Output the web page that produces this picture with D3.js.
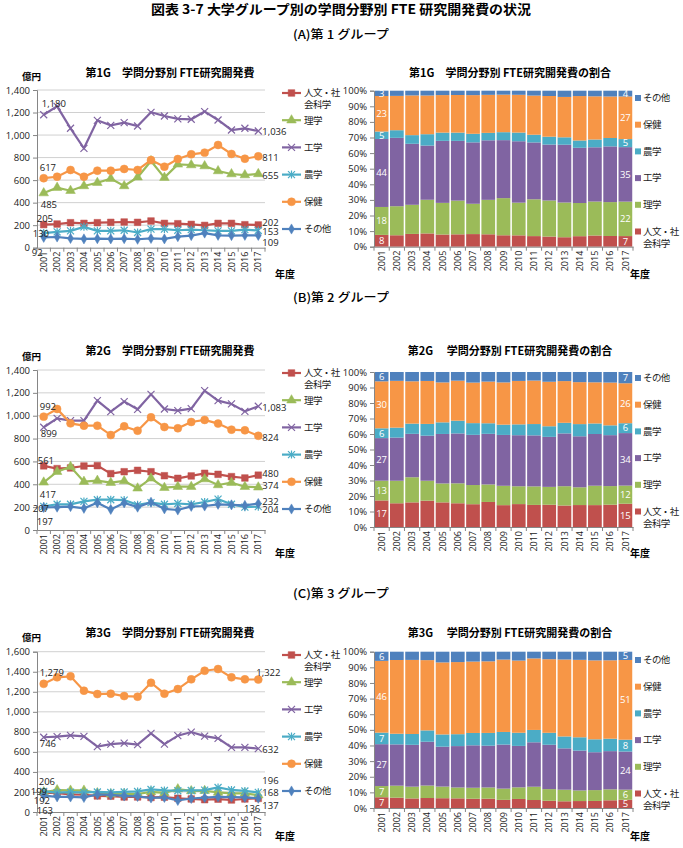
<!DOCTYPE html>
<html>
<head>
<meta charset="utf-8">
<script src="https://cdn.jsdelivr.net/npm/d3@7/dist/d3.min.js"></script>
<style>
  body { margin: 0; background: #fff; }
  svg { display: block; font-family: "Noto Sans CJK JP", "Noto Sans", sans-serif; }
</style>
</head>
<body>
<svg id="chart" width="683" height="848"></svg>
<script>
// categories
const years = ['2001','2002','2003','2004','2005','2006','2007','2008','2009',
  '2010','2011','2012','2013','2014','2015','2016','2017'];
const fields = ['人文・社会科学','理学','工学','農学','保健','その他'];

// 第1グループ (億円)
const g1Jinbun  = [205,210,222,216,222,225,228,225,237,216,213,207,198,216,216,204,202];
const g1Rigaku  = [485,533,506,548,577,613,548,625,770,622,740,734,725,681,654,645,655];
const g1Kougaku = [1180,1255,1060,882,1131,1086,1110,1080,1202,1169,1143,1140,1208,1134,1045,1060,1036];
const g1Nougaku = [130,140,150,185,150,150,155,135,165,165,155,160,155,150,150,160,153];
const g1Hoken   = [617,630,690,630,684,684,699,690,778,719,787,829,844,912,832,790,811];
const g1Sonota  = [92,95,82,78,80,78,80,75,82,78,98,108,130,110,108,110,109];

// 第2グループ
const g2Jinbun  = [561,537,543,560,563,493,510,522,510,475,452,473,496,487,467,455,480];
const g2Rigaku  = [417,510,554,423,432,414,429,365,452,370,379,379,446,394,414,379,374];
const g2Kougaku = [899,977,957,957,1132,1036,1123,1056,1187,1059,1044,1062,1219,1132,1103,1038,1083];
const g2Nougaku = [207,225,225,250,265,265,262,220,240,225,232,225,245,270,225,200,204];
const g2Hoken   = [992,1059,933,913,913,831,907,869,986,901,890,945,963,931,878,872,824];
const g2Sonota  = [197,200,205,190,238,180,237,200,243,185,175,207,210,225,220,215,232];

// 第3グループ
const g3Jinbun  = [192,188,175,172,160,158,150,150,145,148,137,130,123,128,120,130,136];
const g3Rigaku  = [199,219,215,215,190,178,178,180,200,190,228,210,212,195,185,185,168];
const g3Kougaku = [746,752,765,755,652,678,688,672,785,678,762,798,758,735,645,645,632];
const g3Nougaku = [206,194,198,195,200,195,200,205,225,215,212,215,218,245,220,210,196];
const g3Hoken   = [1279,1344,1354,1211,1177,1181,1157,1151,1290,1181,1227,1324,1410,1427,1344,1324,1322];
const g3Sonota  = [163,151,150,145,175,170,160,155,140,145,115,135,143,150,148,145,137];

const yTicks1400 = [0,200,400,600,800,1000,1200,1400];
const yTicks1600 = [0,200,400,600,800,1000,1200,1400,1600];
const pctTicks = [0,0.1,0.2,0.3,0.4,0.5,0.6,0.7,0.8,0.9,1];

const colors = {
  '人文・社会科学': '#C0504D', '理学': '#9BBB59', '工学': '#8064A2',
  '農学': '#4BACC6', '保健': '#F79646', 'その他': '#4F81BD'
};
const markers = {
  '人文・社会科学': 'square', '理学': 'triangle', '工学': 'x',
  '農学': 'star', '保健': 'circle', 'その他': 'diamond'
};

// build row tables for a group
function makeRows(lists) {
  return years.map((yr, i) => {
    let r = { year: yr };
    fields.forEach((f, j) => r[f] = lists[j][i]);
    return r;
  });
}

const groups = [
  { rows: makeRows([g1Jinbun,g1Rigaku,g1Kougaku,g1Nougaku,g1Hoken,g1Sonota]),
    yTicks: yTicks1400, name: '第1G' },
  { rows: makeRows([g2Jinbun,g2Rigaku,g2Kougaku,g2Nougaku,g2Hoken,g2Sonota]),
    yTicks: yTicks1400, name: '第2G' },
  { rows: makeRows([g3Jinbun,g3Rigaku,g3Kougaku,g3Nougaku,g3Hoken,g3Sonota]),
    yTicks: yTicks1600, name: '第3G' }
];

// layout for each block
const layout = [
  { top: 90, bottom: 247.7, ptop: 90.7, pbottom: 246.7, title: 73, unit: 77, legTop: 93, pLegTop: 98, nendo: 274,
    pctTitle: '第1G　学問分野別 FTE研究開発費の割合',
    first: { '工学':[-2,-11,'start'], '保健':[-4,-11,'start'], '理学':[-3,12,'start'], '人文・社会科学':[-7,-6,'start'], '農学':[-11,1,'start'], 'その他':[-12,15,'start'] },
    last:  { '工学':[4,1,'start'], '保健':[4,1,'start'], '理学':[4,2,'start'], '人文・社会科学':[4,-2,'start'], '農学':[4,1,'start'], 'その他':[4,7,'start'] } },
  { top: 370, bottom: 530, ptop: 372, pbottom: 527, title: 351, unit: 357, legTop: 373, pLegTop: 378, nendo: 553,
    pctTitle: '第2G　 学問分野別 FTE研究開発費の割合',
    first: { '工学':[-3,6,'start'], '保健':[-4,-10,'start'], '理学':[-4,12,'start'], '人文・社会科学':[-6,-5,'start'], '農学':[-11,2,'start'], 'その他':[-7,14,'start'] },
    last:  { '工学':[4,1,'start'], '保健':[4,2,'start'], '理学':[4,-2,'start'], '人文・社会科学':[4,-1,'start'], '農学':[4,3,'start'], 'その他':[4,-2,'start'] } },
  { top: 651.7, bottom: 812, ptop: 651.7, pbottom: 808, title: 633, unit: 638, legTop: 655, pLegTop: 660, nendo: 836,
    pctTitle: '第3G　 学問分野別 FTE研究開発費の割合',
    first: { '工学':[-4,6,'start'], '保健':[-4,-11,'start'], '理学':[-13,0,'start'], '人文・社会科学':[-10,8,'start'], '農学':[-5,-10,'start'], 'その他':[-7,15,'start'] },
    last:  { '工学':[4,1,'start'], '保健':[-2,-7,'start'], '理学':[4,-2,'start'], '人文・社会科学':[2,10,'end'], '農学':[4,-12,'start'], 'その他':[4,7,'start'] } }
];

const svg = d3.select('#chart');
const fmt = d3.format(',');
const numFont = '"Open Sans","Noto Sans",sans-serif';

// page headings
svg.append('text').attr('x', 341).attr('y', 14).attr('text-anchor', 'middle')
  .attr('textLength', 380).attr('lengthAdjust', 'spacingAndGlyphs')
  .style('font-size', '13px').style('font-weight', 700)
  .text('図表 3-7 大学グループ別の学問分野別 FTE 研究開発費の状況');
[['(A)第 1 グループ', 39], ['(B)第 2 グループ', 302], ['(C)第 3 グループ', 598]].forEach(h => {
  svg.append('text').attr('x', 341).attr('y', h[1]).attr('text-anchor', 'middle')
    .attr('textLength', 96).attr('lengthAdjust', 'spacingAndGlyphs')
    .style('font-size', '12px').style('font-weight', 500).text(h[0]);
});

function markerPath(type) {
  if (type === 'square') return d3.symbol(d3.symbolSquare, 44)();
  if (type === 'triangle') return d3.symbol(d3.symbolTriangle, 40)();
  if (type === 'diamond') return d3.symbol(d3.symbolDiamond, 30)();
  if (type === 'circle') return d3.symbol(d3.symbolCircle, 50)();
  if (type === 'x') return 'M-3.5,-3.5L3.5,3.5M-3.5,3.5L3.5,-3.5';
  return 'M-3.5,-3.5L3.5,3.5M-3.5,3.5L3.5,-3.5M0,-4L0,4';
}

function drawMarker(g, type, x, y, c) {
  let open = (type === 'x' || type === 'star');
  g.append('path').attr('d', markerPath(type))
    .attr('transform', `translate(${x},${y})`)
    .attr('fill', open ? 'none' : c)
    .attr('stroke', c).attr('stroke-width', open ? 1.2 : 0.5);
}

function styleAxis(a) {
  a.select('.domain').attr('stroke', '#868686');
  a.selectAll('.tick line').attr('stroke', '#868686');
  a.selectAll('text').attr('fill', '#222').style('font-size', '9.5px')
    .style('font-family', numFont);
}

function legendText(g, f, x, y) {
  let lines = f === '人文・社会科学' ? ['人文・社', '会科学'] : [f];
  lines.forEach((s, k) => {
    g.append('text').attr('x', x).attr('y', y + k * 12).attr('dy', '0.35em')
      .style('font-size', '9.5px').style('letter-spacing', '-0.6px')
      .attr('fill', '#222').text(s);
  });
}

const x0 = 37, x1 = 265;
const px0 = 374, px1 = 633;

function lineChart(grp, lay) {
  let g = svg.append('g');
  let x = d3.scalePoint().domain(years).range([x0, x1]).padding(0.5);
  let band = d3.scaleBand().domain(years).range([x0, x1]);
  let ymax = d3.max(grp.yTicks);
  let y = d3.scaleLinear().domain([0, ymax]).range([lay.bottom, lay.top]);

  g.append('g').selectAll('line').data(grp.yTicks.filter(d => d > 0)).join('line')
    .attr('x1', x0).attr('x2', x1).attr('y1', d => y(d)).attr('y2', d => y(d))
    .attr('stroke', '#d0d0d0').attr('stroke-width', 1);

  let ya = g.append('g').attr('transform', `translate(${x0},0)`)
    .call(d3.axisLeft(y).tickValues(grp.yTicks).tickFormat(fmt).tickSize(4).tickPadding(3));
  styleAxis(ya);

  let xa = g.append('g').attr('transform', `translate(0,${lay.bottom})`)
    .call(d3.axisBottom(band).tickSize(0).tickPadding(3));
  styleAxis(xa);
  xa.selectAll('text').attr('transform', 'rotate(-90)').attr('x', -4).attr('y', 0)
    .attr('dy', '0.35em').style('text-anchor', 'end').style('font-size', '9px');
  xa.selectAll('.bound').data(years.concat(['end'])).join('line')
    .attr('x1', d => d === 'end' ? x1 : band(d)).attr('x2', d => d === 'end' ? x1 : band(d))
    .attr('y1', 0).attr('y2', 4).attr('stroke', '#868686');

  let line = d3.line().x(d => x(d.year)).y(d => y(d.v));
  fields.forEach(f => {
    let pts = grp.rows.map(r => ({ year: r.year, v: r[f] }));
    let c = colors[f];
    g.append('path').datum(pts).attr('d', line).attr('fill', 'none')
      .attr('stroke', c).attr('stroke-width', 2.2);
    pts.forEach(p => drawMarker(g, markers[f], x(p.year), y(p.v), c));
  });

  // first/last value labels
  fields.forEach(f => {
    let r0 = grp.rows[0], rn = grp.rows[grp.rows.length - 1];
    [[r0, lay.first[f]], [rn, lay.last[f]]].forEach(([r, o]) => {
      g.append('text').attr('x', x(r.year) + o[0]).attr('y', y(r[f]) + o[1])
        .attr('dy', '0.35em').attr('text-anchor', o[2])
        .style('font-size', '9.5px').attr('fill', '#222')
        .style('font-family', numFont).text(fmt(r[f]));
    });
  });

  g.append('text').attr('x', 170).attr('y', lay.title).attr('dy', '0.35em')
    .attr('text-anchor', 'middle').style('font-size', '11px').style('font-weight', 700)
    .text(grp.name + '　学問分野別 FTE研究開発費');
  g.append('text').attr('x', 22).attr('y', lay.unit).attr('dy', '0.35em')
    .style('font-size', '9.5px').style('font-weight', 700).text('億円');
  g.append('text').attr('x', 275).attr('y', lay.nendo).attr('dy', '0.35em')
    .style('font-size', '10px').style('font-weight', 700).text('年度');

  // legend
  fields.forEach((f, i) => {
    let ly = lay.legTop + i * 27.2;
    let c = colors[f];
    g.append('line').attr('x1', 282).attr('x2', 301).attr('y1', ly).attr('y2', ly)
      .attr('stroke', c).attr('stroke-width', 2.2);
    drawMarker(g, markers[f], 291.5, ly, c);
    legendText(g, f, 304, ly);
  });
}

function pctChart(grp, lay) {
  let g = svg.append('g');
  let x = d3.scaleBand().domain(years).range([px0, px1]).paddingInner(0.1).paddingOuter(0.05);
  let xb = d3.scaleBand().domain(years).range([px0, px1]);
  let y = d3.scaleLinear().domain([0, 1]).range([lay.pbottom, lay.ptop]);
  let series = d3.stack().keys(fields).offset(d3.stackOffsetExpand)(grp.rows);

  g.append('g').selectAll('g').data(series).join('g')
    .attr('fill', d => colors[d.key])
    .selectAll('rect').data(d => d).join('rect')
    .attr('x', d => x(d.data.year)).attr('width', x.bandwidth())
    .attr('y', d => y(d[1])).attr('height', d => y(d[0]) - y(d[1]));

  let ya = g.append('g').attr('transform', `translate(${px0},0)`)
    .call(d3.axisLeft(y).tickValues(pctTicks).tickFormat(d3.format('.0%')).tickSize(4).tickPadding(3));
  styleAxis(ya);

  let xa = g.append('g').attr('transform', `translate(0,${lay.pbottom})`)
    .call(d3.axisBottom(xb).tickSize(0).tickPadding(3));
  styleAxis(xa);
  xa.selectAll('text').attr('transform', 'rotate(-90)').attr('x', -4).attr('y', 0)
    .attr('dy', '0.35em').style('text-anchor', 'end').style('font-size', '9px');
  xa.selectAll('.bound').data(years.concat(['end'])).join('line')
    .attr('x1', d => d === 'end' ? px1 : xb(d)).attr('x2', d => d === 'end' ? px1 : xb(d))
    .attr('y1', 0).attr('y2', 4).attr('stroke', '#868686');

  // white share labels on first and last bars
  series.forEach(s => {
    [s[0], s[s.length - 1]].forEach(d => {
      g.append('text').attr('x', x(d.data.year) + x.bandwidth() / 2)
        .attr('y', (y(d[0]) + y(d[1])) / 2).attr('dy', '0.35em')
        .attr('text-anchor', 'middle').attr('fill', '#fff')
        .style('font-size', '9.5px').style('font-family', numFont)
        .text(Math.round((d[1] - d[0]) * 100));
    });
  });

  g.append('text').attr('x', 510).attr('y', lay.title).attr('dy', '0.35em')
    .attr('text-anchor', 'middle').style('font-size', '11px').style('font-weight', 700)
    .text(lay.pctTitle);
  g.append('text').attr('x', 630).attr('y', lay.nendo).attr('dy', '0.35em')
    .style('font-size', '10px').style('font-weight', 700).text('年度');

  // legend (reverse order)
  fields.slice().reverse().forEach((f, i) => {
    let ly = lay.pLegTop + i * 26.7;
    g.append('rect').attr('x', 635).attr('y', ly - 3).attr('width', 6).attr('height', 6)
      .attr('fill', colors[f]);
    legendText(g, f, 643, ly);
  });
}

groups.forEach((grp, i) => {
  lineChart(grp, layout[i]);
  pctChart(grp, layout[i]);
});
</script>
</body>
</html>
